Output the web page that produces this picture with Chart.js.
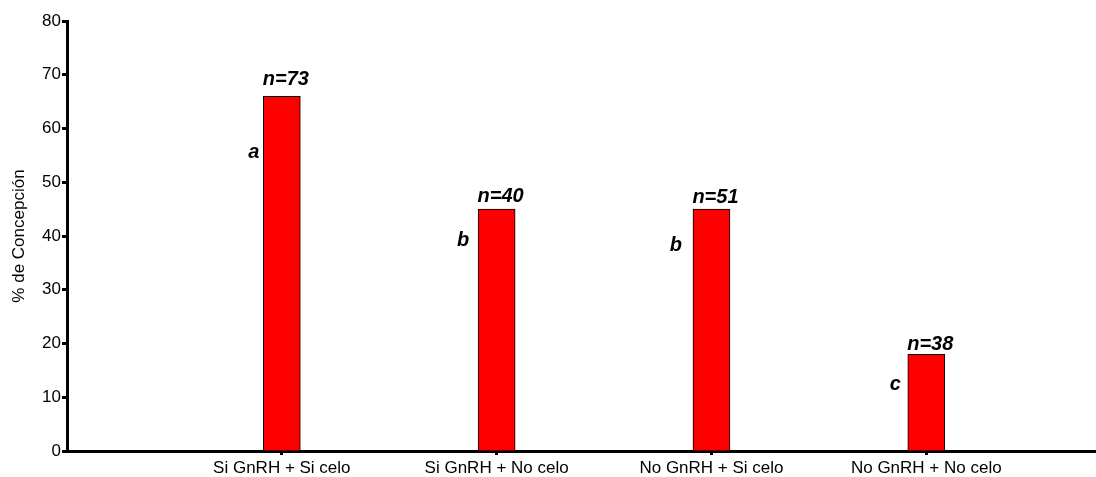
<!DOCTYPE html>
<html>
<head>
<meta charset="utf-8">
<script src="https://cdn.jsdelivr.net/npm/chart.js@4/dist/chart.umd.min.js"></script>
<style>
  html, body { margin: 0; padding: 0; background: #fff; }
  #wrap { width: 1096px; height: 477px; }
</style>
</head>
<body>
<div id="wrap"><canvas id="chart" width="1096" height="477"></canvas></div>
<script>
/* ================= DATA ================= */

const categories = ["Si GnRH + Si celo", "Si GnRH + No celo", "No GnRH + Si celo", "No GnRH + No celo"];
const conception = [66, 45, 45, 18];
const nLabels = ["n=73", "n=40", "n=51", "n=38"];
const sigLetters = ["a", "b", "b", "c"];
const yTicks = [0, 10, 20, 30, 40, 50, 60, 70, 80];

/* ================= LAYOUT TWEAKS (px) ================= */

const nGap = [11, 7, 6, 4];        // space between n= label and bar top
const letterDx = [4, 9, 11, 7];    // space between letter and bar left
const letterDy = [56, 31, 36, 30]; // letter centre below bar top

const FONT = "'Liberation Sans', Arial, sans-serif";

/* ================= ANNOTATION PLUGIN ================= */

const annotate = {
  id: "annotate",
  afterDatasetsDraw(chart) {
    const ctx = chart.ctx;
    const bars = chart.getDatasetMeta(0).data;
    ctx.save();
    ctx.fillStyle = "#000";
    bars.forEach((bar, i) => {
      const left = bar.x - bar.width / 2;
      ctx.font = "italic bold 20px " + FONT;
      ctx.textAlign = "center";
      ctx.textBaseline = "alphabetic";
      ctx.fillText(nLabels[i], bar.x + 4, bar.y - nGap[i]);
      ctx.font = "italic bold 20px " + FONT;
      ctx.textAlign = "right";
      ctx.textBaseline = "middle";
      ctx.fillText(sigLetters[i], left - letterDx[i], bar.y + letterDy[i]);
    });
    ctx.restore();
  }
};

/* ================= CHART ================= */

new Chart(document.getElementById("chart").getContext("2d"), {
  type: "bar",
  data: {
    datasets: [{
      data: conception.map((v, i) => ({ x: i + 1, y: v })),
      backgroundColor: "#ff0000",
      borderColor: "#000",
      borderWidth: 1,
      borderSkipped: "bottom",
      barThickness: 37
    }]
  },
  options: {
    responsive: false,
    animation: false,
    layout: { padding: { top: 21, right: 0, bottom: 0, left: 0 } },
    plugins: { legend: { display: false }, tooltip: { enabled: false } },
    scales: {
      x: {
        type: "linear",
        min: 0,
        max: 4.79,
        offset: false,
        afterBuildTicks(scale) {
          scale.ticks = categories.map((c, i) => ({ value: i + 1 }));
        },
        afterFit(scale) { scale.height = 26; },
        ticks: {
          autoSkip: false,
          maxRotation: 0,
          padding: 3,
          color: "#000",
          font: { family: FONT, size: 17 },
          callback: (v) => categories[v - 1]
        },
        grid: {
          offset: false,
          drawOnChartArea: false,
          drawTicks: true,
          tickLength: 4,
          tickWidth: 3,
          tickColor: "#000"
        },
        border: { display: true, color: "#000", width: 3 }
      },
      y: {
        min: 0,
        max: 80,
        afterBuildTicks(scale) {
          scale.ticks = yTicks.map(v => ({ value: v }));
        },
        afterFit(scale) { scale.width = 67; },
        ticks: {
          padding: 1,
          color: "#000",
          font: { family: FONT, size: 17 }
        },
        grid: {
          drawOnChartArea: false,
          drawTicks: true,
          tickLength: 5,
          tickWidth: 3,
          tickColor: "#000"
        },
        border: { display: true, color: "#000", width: 3 },
        title: {
          display: true,
          text: "% de Concepción",
          color: "#000",
          padding: { top: 9, bottom: 0 },
          font: { family: FONT, size: 17 }
        }
      }
    }
  },
  plugins: [annotate]
});
</script>
</body>
</html>
